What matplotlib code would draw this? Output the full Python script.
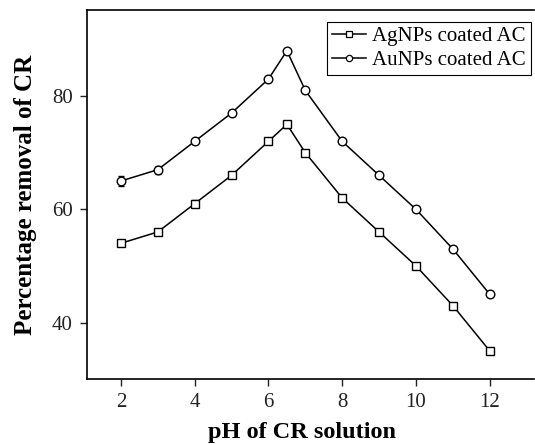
import matplotlib
matplotlib.use("Agg")
import matplotlib.pyplot as plt
from matplotlib.lines import Line2D

ph = [2, 3, 4, 5, 6, 6.5, 7, 8, 9, 10, 11, 12]
ag = [54, 56, 61, 66, 72, 75, 70, 62, 56, 50, 43, 35]
au = [65, 67, 72, 77, 83, 88, 81, 72, 66, 60, 53, 45]
ag_err = [0.5, 0.5, 0.6, 0.5, 0.5, 0.6, 0.5, 0.5, 0.6, 0.5, 0.5, 0.5]
au_err = [0.8, 0.7, 0.5, 0.5, 0.6, 0.5, 0.5, 0.5, 0.5, 0.5, 0.6, 0.5]
xticks = [2, 4, 6, 8, 10, 12]
yticks = [40, 60, 80]
labels = ['AgNPs coated AC', 'AuNPs coated AC']

plt.rcParams['font.family'] = ['Liberation Serif', 'DejaVu Serif']
fig = plt.figure(figsize=(5.35, 4.45), dpi=100)
ax = fig.add_axes([0.162, 0.148, 0.836, 0.8295])

ax.errorbar(ph, ag, yerr=ag_err, color='black', lw=1.1, marker='s', ms=5.5,
            mfc='white', mec='black', mew=1.0, capsize=2.5, elinewidth=0.8)
ax.errorbar(ph, au, yerr=au_err, color='black', lw=1.1, marker='o', ms=6.2,
            mfc='white', mec='black', mew=1.0, capsize=2.5, elinewidth=0.8)

ax.set_xlim(1.07, 13.2)
ax.set_ylim(30, 95.2)
ax.set_xticks(xticks)
ax.set_yticks(yticks)
ax.spines['right'].set_visible(False)
for s in ['left', 'bottom', 'top']:
    ax.spines[s].set_linewidth(1.2)
ax.tick_params(direction='out', length=5, width=1, labelsize=15, pad=5, colors='#222222')
ax.set_xlabel('pH of CR solution', fontsize=17.5, fontweight='bold')
ax.xaxis.set_label_coords(0.4825, -0.116)
ax.set_ylabel('Percentage removal of CR', fontsize=18, fontweight='bold', labelpad=11)

handles = [Line2D([], [], color='black', lw=1.1, marker='s', ms=4, mfc='white', mec='black', mew=0.9),
           Line2D([], [], color='black', lw=1.1, marker='o', ms=4.5, mfc='white', mec='black', mew=0.9)]
leg = ax.legend(handles, labels, loc='upper right', bbox_to_anchor=(0.9925, 0.967), fontsize=15,
                frameon=True, fancybox=False, edgecolor='black', framealpha=1,
                handlelength=1.65, handletextpad=0.3, borderpad=0.22,
                labelspacing=0.2, borderaxespad=0)
leg.get_frame().set_linewidth(0.8)

fig.savefig('out.png', dpi=100)
